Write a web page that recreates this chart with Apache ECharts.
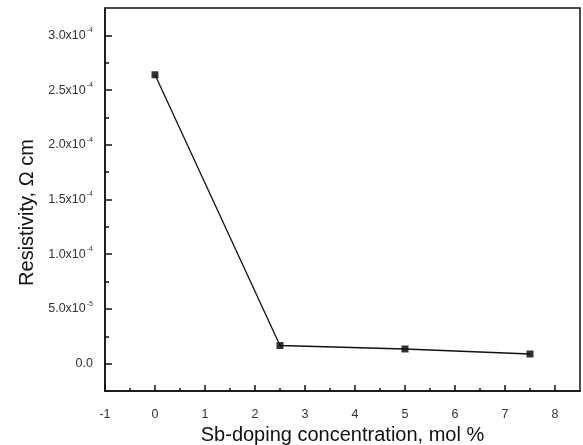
<!DOCTYPE html>
<html>
<head>
<meta charset="utf-8">
<script src="https://cdn.jsdelivr.net/npm/echarts@6/dist/echarts.min.js"></script>
<style>
  html, body { margin: 0; padding: 0; background: #fff; }
  #chart { width: 583px; height: 445px; }
</style>
</head>
<body>
<div id="chart"></div>
<script>
  // Sb-doping concentration (mol %) vs resistivity (ohm cm)
  var dopingLevels = [0, 2.5, 5, 7.5]
  var resistivity = [2.64e-4, 1.66e-5, 1.34e-5, 0.88e-5]

  var yMajorTicks = [0, 0.5e-4, 1.0e-4, 1.5e-4, 2.0e-4, 2.5e-4, 3.0e-4]
  var yMinorTicks = [0.25e-4, 0.75e-4, 1.25e-4, 1.75e-4, 2.25e-4, 2.75e-4]
  var xMajorTicks = [-1, 0, 1, 2, 3, 4, 5, 6, 7, 8]
  var xMinorTicks = [-0.5, 0.5, 1.5, 2.5, 3.5, 4.5, 5.5, 6.5, 7.5]

  var points = dopingLevels.map(function(x, i) { return [x, resistivity[i]] })

  function yLabel(v) {
    if (Math.abs(v) < 1e-12) return '{m|0.0}'
    var exp = Math.floor(Math.log10(Math.abs(v)) + 1e-9)
    var mant = v / Math.pow(10, exp)
    return '{m|' + mant.toFixed(1) + 'x10}{s|' + exp + '}'
  }

  var labelFont = 'Liberation Sans'
  var labelColor = '#333'

  var chart = echarts.init(document.getElementById('chart'))
  chart.setOption({
    animation: false,
    backgroundColor: '#fff',
    grid: {
      left: 105,
      right: 3,
      top: 8,
      bottom: 54,
      outerBoundsMode: 'none',
      show: true,
      borderColor: '#111',
      borderWidth: 1.5
    },
    xAxis: [
      {
        type: 'value',
        min: -1,
        max: 8.5,
        name: 'Sb-doping concentration, mol %',
        nameLocation: 'middle',
        nameGap: 30,
        nameTextStyle: { fontFamily: labelFont, fontSize: 20, color: '#111' },
        axisLine: { onZero: false, lineStyle: { color: '#111', width: 1.5 } },
        axisTick: { inside: true, length: 6, customValues: xMajorTicks, lineStyle: { color: '#111', width: 1.5 } },
        axisLabel: {
          customValues: xMajorTicks,
          margin: 17,
          fontFamily: labelFont,
          fontSize: 12.5,
          color: labelColor
        },
        splitLine: { show: false }
      },
      {
        type: 'value',
        min: -1,
        max: 8.5,
        position: 'bottom',
        axisLine: { show: false, onZero: false },
        axisTick: { inside: true, length: 3, customValues: xMinorTicks, lineStyle: { color: '#111', width: 1.5 } },
        axisLabel: { show: false },
        splitLine: { show: false }
      }
    ],
    yAxis: [
      {
        type: 'value',
        min: -0.25e-4,
        max: 3.25e-4,
        name: 'Resistivity, \u03a9 cm',
        nameLocation: 'middle',
        nameGap: 66,
        nameTextStyle: { fontFamily: labelFont, fontSize: 20, color: '#111', padding: [0, 26, 0, 0] },
        axisLine: { onZero: false, lineStyle: { color: '#111', width: 1.5 } },
        axisTick: { inside: true, length: 7, customValues: yMajorTicks, lineStyle: { color: '#111', width: 1.5 } },
        axisLabel: {
          customValues: yMajorTicks,
          margin: 12,
          formatter: yLabel,
          rich: {
            m: { fontFamily: labelFont, fontSize: 12.5, color: labelColor },
            s: { fontFamily: labelFont, fontSize: 7, color: labelColor, padding: [0, 0, 10, 1] }
          }
        },
        splitLine: { show: false }
      },
      {
        type: 'value',
        min: -0.25e-4,
        max: 3.25e-4,
        position: 'left',
        axisLine: { show: false, onZero: false },
        axisTick: { inside: true, length: 4, customValues: yMinorTicks, lineStyle: { color: '#111', width: 1.5 } },
        axisLabel: { show: false },
        splitLine: { show: false }
      }
    ],
    series: [
      {
        type: 'line',
        data: points,
        symbol: 'none',
        lineStyle: { color: '#111', width: 1.3 }
      },
      {
        // white halo so the line stops short of each marker
        type: 'scatter',
        data: points,
        symbol: 'rect',
        symbolSize: 14,
        itemStyle: { color: '#fff' }
      },
      {
        type: 'scatter',
        data: points,
        symbol: 'rect',
        symbolSize: 7,
        itemStyle: { color: '#000' }
      }
    ]
  })
</script>
</body>
</html>
